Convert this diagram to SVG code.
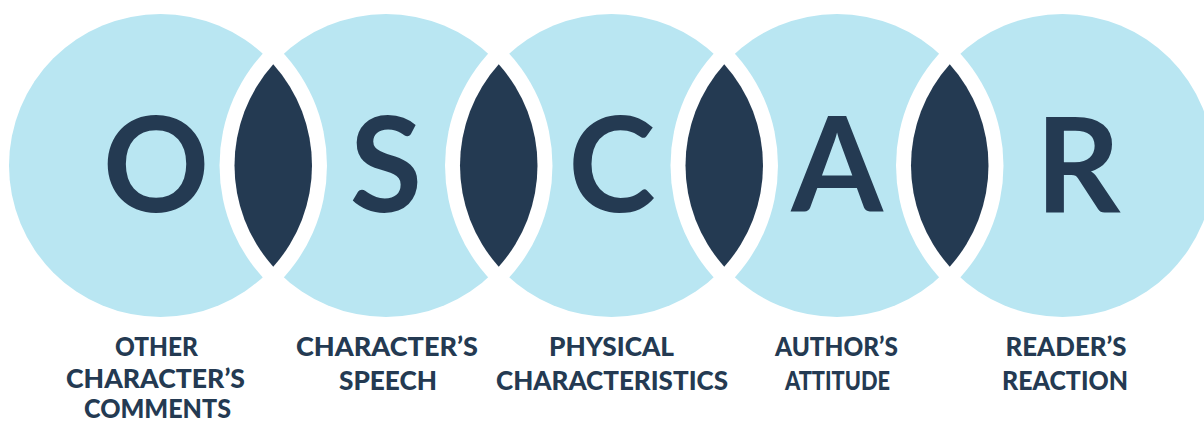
<svg xmlns="http://www.w3.org/2000/svg" width="1204" height="423" viewBox="0 0 1204 423">
<style>
.c{fill:#b9e6f2}
.gap{fill:#ffffff}
.lens{fill:#243a52}
.big{font-family:Lato,"Liberation Sans",sans-serif;font-weight:700;font-size:132px;fill:#243a52;text-anchor:middle}
.lbl{font-family:Lato,"Liberation Sans",sans-serif;font-weight:900;font-size:26px;fill:#243a52;text-anchor:middle}
</style>
<rect width="1204" height="423" fill="#ffffff"/>
<g id="circles">
<circle class="c" cx="160.5" cy="165.5" r="151.5"/>
<circle class="c" cx="386" cy="165.5" r="151.5"/>
<circle class="c" cx="611.5" cy="165.5" r="151.5"/>
<circle class="c" cx="837" cy="165.5" r="151.5"/>
<circle class="c" cx="1062.5" cy="165.5" r="151.5"/>
</g>
<g id="overlaps">
<path class="gap" d="M273.25,43 A166.5,166.5 0 0 1 273.25,288 A166.5,166.5 0 0 1 273.25,43 Z"/>
<path class="gap" d="M498.75,43 A166.5,166.5 0 0 1 498.75,288 A166.5,166.5 0 0 1 498.75,43 Z"/>
<path class="gap" d="M724.25,43 A166.5,166.5 0 0 1 724.25,288 A166.5,166.5 0 0 1 724.25,43 Z"/>
<path class="gap" d="M949.75,43 A166.5,166.5 0 0 1 949.75,288 A166.5,166.5 0 0 1 949.75,43 Z"/>
<path class="lens" d="M273.25,64.3 A151.5,151.5 0 0 1 273.25,266.7 A151.5,151.5 0 0 1 273.25,64.3 Z"/>
<path class="lens" d="M498.75,64.3 A151.5,151.5 0 0 1 498.75,266.7 A151.5,151.5 0 0 1 498.75,64.3 Z"/>
<path class="lens" d="M724.25,64.3 A151.5,151.5 0 0 1 724.25,266.7 A151.5,151.5 0 0 1 724.25,64.3 Z"/>
<path class="lens" d="M949.75,64.3 A151.5,151.5 0 0 1 949.75,266.7 A151.5,151.5 0 0 1 949.75,64.3 Z"/>
</g>
<g id="node-O">
<text class="big" x="156" y="212">O</text>
<text class="lbl" x="156.5" y="356" textLength="83" lengthAdjust="spacingAndGlyphs">OTHER</text>
<text class="lbl" x="155.5" y="388" textLength="179" lengthAdjust="spacingAndGlyphs">CHARACTER’S</text>
<text class="lbl" x="157.5" y="418" textLength="147" lengthAdjust="spacingAndGlyphs">COMMENTS</text>
</g>
<g id="node-S">
<text class="big" x="386" y="212">S</text>
<text class="lbl" x="387" y="356" textLength="182" lengthAdjust="spacingAndGlyphs">CHARACTER’S</text>
<text class="lbl" x="388" y="390" textLength="98" lengthAdjust="spacingAndGlyphs">SPEECH</text>
</g>
<g id="node-C">
<text class="big" x="612" y="212">C</text>
<text class="lbl" x="611.5" y="356" textLength="125" lengthAdjust="spacingAndGlyphs">PHYSICAL</text>
<text class="lbl" x="612" y="390" textLength="232" lengthAdjust="spacingAndGlyphs">CHARACTERISTICS</text>
</g>
<g id="node-A">
<text class="big" x="837" y="212">A</text>
<text class="lbl" x="836.5" y="356" textLength="123" lengthAdjust="spacingAndGlyphs">AUTHOR’S</text>
<text class="lbl" x="837.5" y="390" textLength="105" lengthAdjust="spacingAndGlyphs">ATTITUDE</text>
</g>
<g id="node-R">
<text class="big" x="1078" y="212">R</text>
<text class="lbl" x="1066" y="356" textLength="121" lengthAdjust="spacingAndGlyphs">READER’S</text>
<text class="lbl" x="1065" y="390" textLength="126" lengthAdjust="spacingAndGlyphs">REACTION</text>
</g>
</svg>
